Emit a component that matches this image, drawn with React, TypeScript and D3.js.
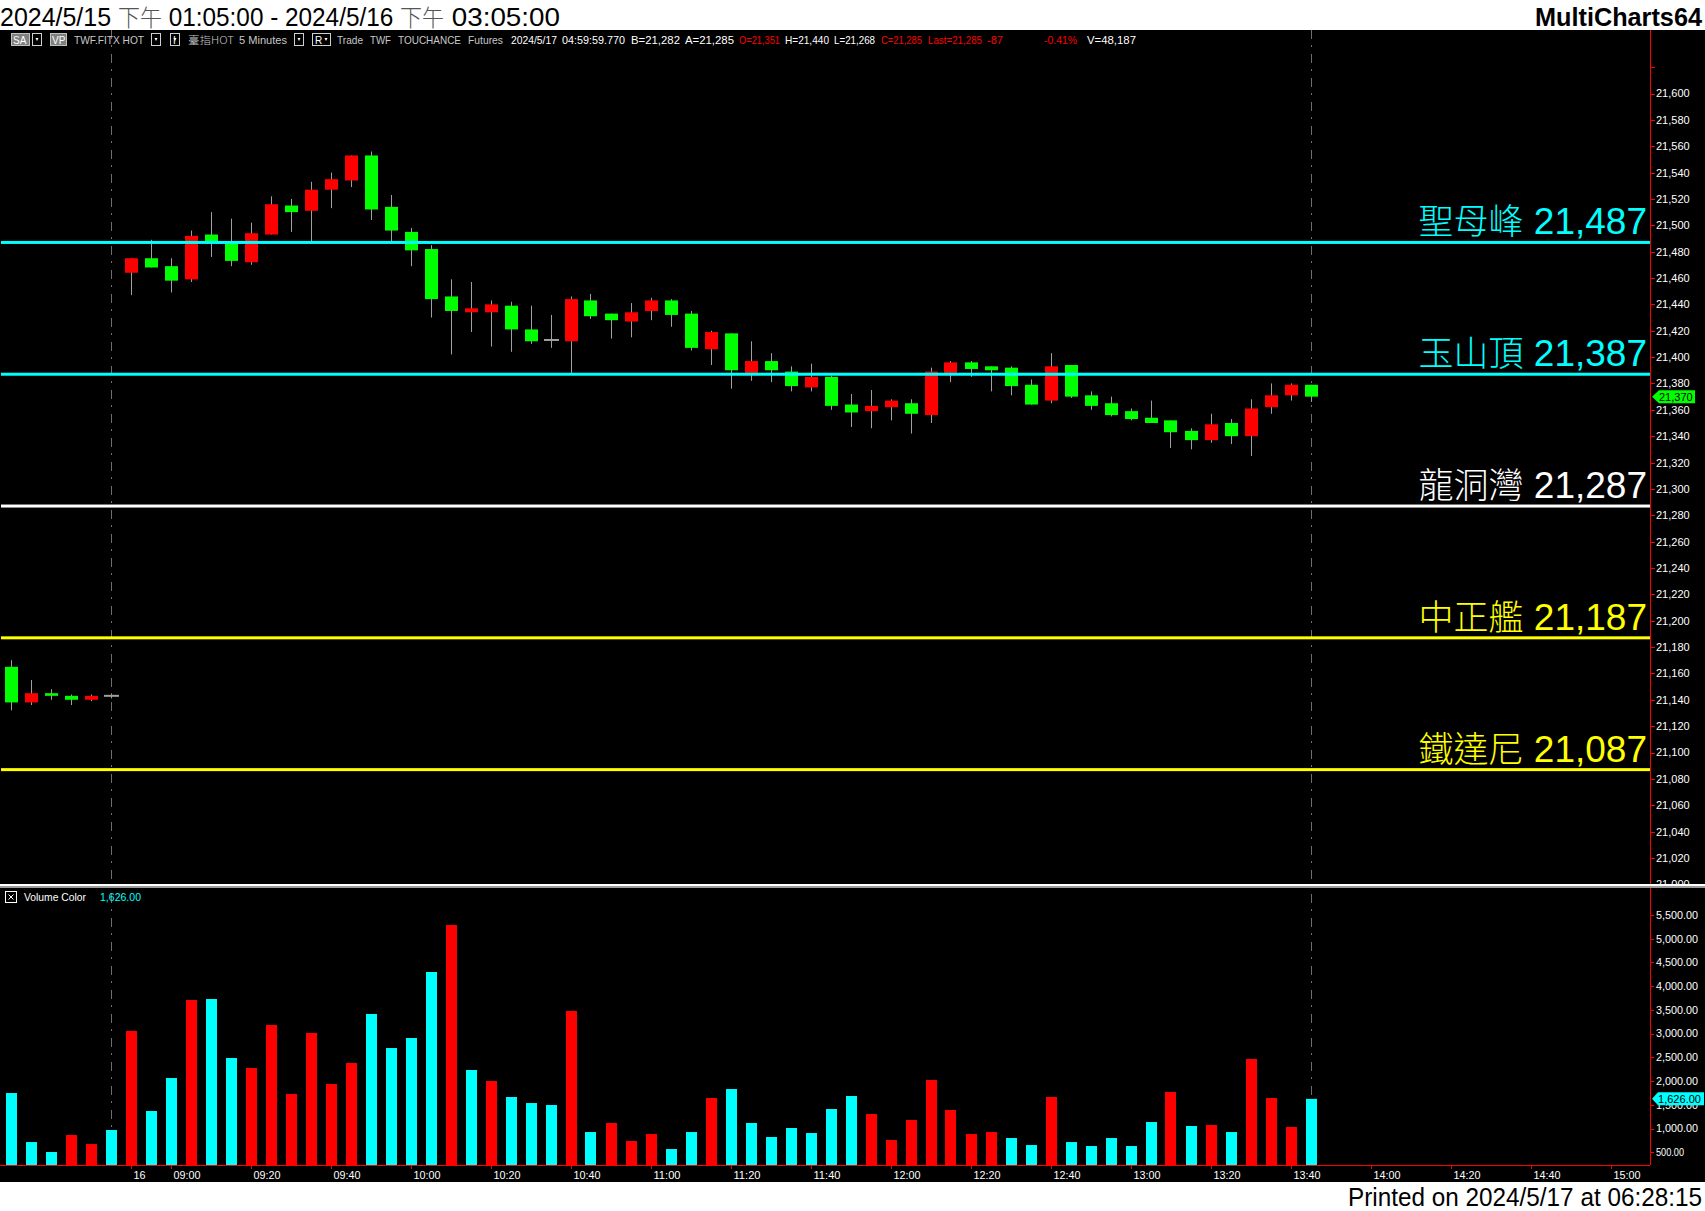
import React from "react";
import * as d3 from "d3";

// ---------------- DATA ----------------
const opens = [21165, 21138, 21145, 21143, 21140, 21143,
  21464, 21475, 21469, 21459, 21493, 21488, 21472, 21493, 21515, 21511,
  21527, 21534, 21553, 21514, 21495, 21482, 21446, 21434, 21434, 21439,
  21421, 21413, 21412, 21443, 21433, 21427, 21435, 21443, 21433, 21406,
  21418, 21387, 21397, 21389, 21377, 21385, 21364, 21359, 21362, 21365,
  21356, 21388, 21396, 21393, 21392, 21379, 21367, 21394, 21371, 21365,
  21359, 21354, 21352, 21344, 21337, 21350, 21340, 21362, 21371, 21379];
const highs = [21170, 21155, 21148, 21144, 21144, 21144,
  21475, 21489, 21475, 21496, 21510, 21505, 21502, 21522, 21520, 21533,
  21540, 21553, 21556, 21523, 21498, 21485, 21459, 21457, 21443, 21442,
  21439, 21432, 21446, 21448, 21433, 21441, 21445, 21444, 21435, 21420,
  21418, 21412, 21403, 21393, 21395, 21386, 21372, 21375, 21368, 21368,
  21392, 21397, 21397, 21393, 21393, 21383, 21403, 21394, 21374, 21370,
  21361, 21367, 21352, 21346, 21357, 21353, 21368, 21380, 21380, 21379];
const lows = [21132, 21136, 21140, 21136, 21139, 21141,
  21447, 21468, 21449, 21457, 21476, 21469, 21470, 21493, 21495, 21487,
  21513, 21529, 21504, 21487, 21469, 21430, 21402, 21419, 21408, 21404,
  21410, 21407, 21388, 21429, 21414, 21415, 21428, 21423, 21405, 21394,
  21376, 21382, 21381, 21374, 21374, 21360, 21347, 21346, 21352, 21342,
  21350, 21381, 21385, 21374, 21371, 21364, 21365, 21369, 21360, 21355,
  21352, 21350, 21331, 21330, 21335, 21334, 21325, 21357, 21367, 21366];
const closes = [21138, 21145, 21143, 21140, 21143, 21143,
  21475, 21468, 21458, 21492, 21487, 21473, 21494, 21516, 21510, 21527,
  21535, 21553, 21512, 21496, 21481, 21444, 21435, 21437, 21440, 21421,
  21412, 21413, 21444, 21431, 21428, 21434, 21443, 21432, 21407, 21419,
  21390, 21397, 21390, 21378, 21385, 21363, 21358, 21363, 21367, 21357,
  21389, 21396, 21391, 21390, 21378, 21364, 21393, 21370, 21363, 21356,
  21353, 21350, 21343, 21337, 21349, 21340, 21361, 21371, 21379, 21370];
const volumes = [1749, 716, 506, 864, 674, 970,
  3056, 1370, 2065, 3709, 3730, 2487, 2276, 3182, 1728, 3014,
  1939, 2381, 3414, 2697, 2908, 4299, 5289, 2234, 2002, 1665,
  1538, 1496, 3477, 927, 1117, 738, 885, 569, 927, 1644,
  1833, 1117, 822, 1012, 906, 1412, 1686, 1307, 759, 1180,
  2023, 1391, 885, 927, 801, 653, 1665, 716, 632, 801,
  632, 1138, 1770, 1054, 1075, 927, 2466, 1644, 1033, 1626];
// 1 = up volume (red), 0 = down volume (cyan)
const volumeUp = [0, 0, 0, 1, 1, 0,
  1, 0, 0, 1, 0, 0, 1, 1, 1, 1,
  1, 1, 0, 0, 0, 0, 1, 0, 1, 0,
  0, 0, 1, 0, 1, 1, 1, 0, 0, 1,
  0, 0, 0, 0, 0, 0, 0, 1, 1, 1,
  1, 1, 1, 1, 0, 0, 1, 0, 0, 0,
  0, 0, 1, 0, 1, 0, 1, 1, 1, 0];

const levelNames = ["聖母峰", "玉山頂", "龍洞灣", "中正艦", "鐵達尼"];
const levelValues = [21487, 21387, 21287, 21187, 21087];
const levelColors = ["#00ffff", "#00ffff", "#ffffff", "#ffff00", "#ffff00"];

const timeTickTimes = ["08:50", "09:00", "09:20", "09:40", "10:00", "10:20", "10:40", "11:00",
  "11:20", "11:40", "12:00", "12:20", "12:40", "13:00", "13:20", "13:40", "14:00", "14:20", "14:40", "15:00"];
const timeTickLabels = ["16", "09:00", "09:20", "09:40", "10:00", "10:20", "10:40", "11:00",
  "11:20", "11:40", "12:00", "12:20", "12:40", "13:00", "13:20", "13:40", "14:00", "14:20", "14:40", "15:00"];
const daySessionFirstBar = 6; // bar index of 08:50 on the 16th
const nightSessionLastBar = 5;

const priceTicks = d3.range(21000, 21621, 20);
const volumeTicks = d3.range(500, 5501, 500);
const lastPrice = 21370;
const lastVolume = 1626;

const titleText = ["2024/5/15 ", "下午", " 01:05:00 - 2024/5/16 ", "下午", " 03:05:00"];
const printedText = "Printed on 2024/5/17 at 06:28:15";

// ---------------- LAYOUT ----------------
const W = 1705;
const H = 1211;
const AXIS_X = 1650;
const PRICE_TOP = 30;
const SEP_Y = 884;
const VOL_TOP = 888;
const VOL_BASE = 1165;
const BLACK_BOTTOM = 1182;

const LATIN = "'Liberation Sans', Arial, 'DejaVu Sans', sans-serif";
const CJK = "'Noto Sans CJK TC Light', 'Noto Sans CJK TC', 'Noto Sans CJK SC', sans-serif";

function minutesOf(t: string) {
  const [h, m] = t.split(":").map(Number);
  return h * 60 + m;
}

const isCJK = (s: string) => /[\u4e00-\u9fff]/.test(s);

export default function App() {
  const n = closes.length;
  const x = d3.scaleLinear().domain([0, 82]).range([10.5, 1650.5]);
  const yP = d3.scaleLinear().domain([21000, 21600]).range([884.3, 93.5]);
  const yV = d3.scaleLinear().domain([500, 5500]).range([1152.3, 915]);
  const fmtInt = d3.format(",");
  const fmtVol = d3.format(",.2f");

  const barIndexOfTime = (t: string) =>
    daySessionFirstBar + (minutesOf(t) - minutesOf(timeTickTimes[0])) / 5;

  const bodyW = 13;
  const volW = 11;

  const candles = d3.range(n).map((i) => {
    const cx = Math.round(x(i));
    const o = opens[i], c = closes[i];
    const yTop = yP(Math.max(o, c));
    const yBot = yP(Math.min(o, c));
    const color = c > o ? "#ff0000" : c < o ? "#00ff00" : "#a0a0a0";
    return (
      <g key={"c" + i}>
        <line x1={cx + 0.5} x2={cx + 0.5} y1={yP(highs[i])} y2={yP(lows[i])} stroke="#a0a0a0" strokeWidth={1} />
        {c === o ? (
          <rect x={cx - 7} y={yTop - 1} width={15} height={2} fill="#a0a0a0" />
        ) : (
          <rect x={cx - 6} y={yTop} width={bodyW} height={Math.max(2, yBot - yTop)} fill={color} />
        )}
      </g>
    );
  });

  const volBars = d3.range(n).map((i) => {
    const cx = Math.round(x(i));
    const yt = yV(volumes[i]);
    return (
      <rect key={"v" + i} x={cx - 5} y={yt} width={volW} height={VOL_BASE - yt}
        fill={volumeUp[i] ? "#ff0000" : "#00ffff"} />
    );
  });

  const dashX = [x(nightSessionLastBar), x(n - 1)];

  const yLast = yP(lastPrice);
  const yLastV = yV(lastVolume);

  const infoGray = "#c8c8c8";
  const infoWhite = "#ffffff";
  const infoRed = "#ff0000";
  const infoItems: [string, number, number, string][] = [
    ["TWF.FITX HOT", 74, 70, infoGray],
    ["臺指HOT", 188, 46, infoGray],
    ["5 Minutes", 239, 48, infoGray],
    ["Trade", 337, 26, infoGray],
    ["TWF", 370, 21, infoGray],
    ["TOUCHANCE", 398, 63, infoGray],
    ["Futures", 468, 35, infoGray],
    ["2024/5/17", 511, 46, infoWhite],
    ["04:59:59.770", 562, 63, infoWhite],
    ["B=21,282", 631, 49, infoWhite],
    ["A=21,285", 685, 49, infoWhite],
    ["O=21,351", 739, 41, infoRed],
    ["H=21,440", 785, 44, infoWhite],
    ["L=21,268", 834, 41, infoWhite],
    ["C=21,285", 881, 41, infoRed],
    ["Last=21,285", 928, 54, infoRed],
    ["-87", 987, 16, infoRed],
    ["-0.41%", 1044, 33, infoRed],
    ["V=48,187", 1087, 49, infoWhite],
  ];

  const dropBox = (bx: number, key: string, label?: string, w = 9) => (
    <g key={key}>
      <rect x={bx + 0.5} y={33.5} width={w} height={12} fill="#000" stroke="#d0d0d0" strokeWidth={1} />
      {label ? (
        <text x={bx + 3} y={43.5} fontSize={10} fill="#fff" fontFamily={LATIN}>{label}</text>
      ) : null}
      <path d={`M${bx + w - 5.5},38 l3,0 l-1.5,3 z`} fill="#fff" />
    </g>
  );

  // title pieces laid out explicitly so tspans never collide
  const titleWidths = [118, 44, 238, 44, 116];
  const titleStarts = titleWidths.map((_, i) => d3.sum(titleWidths.slice(0, i)));

  return (
    <div style={{ width: W, height: H, overflow: "hidden" }}>
      <style>{`html,body{margin:0;padding:0;background:#fff;}`}</style>
      <svg width={W} height={H} style={{ display: "block" }} fontFamily={LATIN}>
        <defs>
          <clipPath id="priceClip">
            <rect x={0} y={PRICE_TOP} width={W} height={SEP_Y - PRICE_TOP} />
          </clipPath>
        </defs>
        {/* backgrounds */}
        <rect x={0} y={0} width={W} height={H} fill="#ffffff" />
        <rect x={0} y={PRICE_TOP} width={W} height={BLACK_BOTTOM - PRICE_TOP} fill="#000000" />

        {/* dashed session / last-bar lines */}
        {dashX.map((dx, i) => (
          <line key={"d" + i} x1={Math.round(dx) + 0.5} x2={Math.round(dx) + 0.5} y1={PRICE_TOP} y2={VOL_BASE}
            stroke="#6e6e6e" strokeWidth={1} strokeDasharray="9 6 2 7" />
        ))}

        {/* candles */}
        <g clipPath="url(#priceClip)">{candles}</g>

        {/* key level lines */}
        {levelValues.map((v, i) => (
          <g key={"l" + i}>
            <rect x={1} y={yP(v) - 1.5} width={AXIS_X - 1} height={3} fill={levelColors[i]} />
            <text x={1647} y={yP(v) - 8} textAnchor="end" fill={levelColors[i]}>
              <tspan fontFamily={CJK} fontSize={35} fontWeight={200}>{levelNames[i]}</tspan>
              <tspan fontFamily={LATIN} fontSize={37}>{" " + fmtInt(v)}</tspan>
            </text>
          </g>
        ))}

        {/* price axis */}
        <line x1={AXIS_X + 0.5} x2={AXIS_X + 0.5} y1={PRICE_TOP} y2={SEP_Y} stroke="#ff0000" strokeWidth={1} />
        <g clipPath="url(#priceClip)">
          {priceTicks.map((p) => (
            <g key={"pt" + p}>
              <line x1={AXIS_X} x2={AXIS_X + 5} y1={Math.round(yP(p)) + 0.5} y2={Math.round(yP(p)) + 0.5} stroke="#ff0000" />
              {p < 21620 ? (
                <text x={AXIS_X + 6} y={yP(p)} dy="0.36em" fontSize={11} fill="#ffffff">{fmtInt(p)}</text>
              ) : null}
            </g>
          ))}
        </g>
        {/* last price marker */}
        <g>
          <path d={`M${AXIS_X + 2},${yLast} L${AXIS_X + 9},${yLast - 6.5} L${AXIS_X + 45},${yLast - 6.5} L${AXIS_X + 45},${yLast + 6.5} L${AXIS_X + 9},${yLast + 6.5} Z`} fill="#00ff00" />
          <text x={AXIS_X + 9} y={yLast} dy="0.36em" fontSize={11} fill="#000">{fmtInt(lastPrice)}</text>
        </g>

        {/* separator */}
        <rect x={0} y={SEP_Y} width={W} height={2} fill="#ffffff" />
        <rect x={0} y={SEP_Y + 2} width={W} height={2} fill="#9a9a9a" />

        {/* volume legend */}
        <rect x={5.5} y={891.5} width={11} height={11} fill="none" stroke="#ffffff" />
        <path d="M8.5,894.5 L13.5,899.5 M13.5,894.5 L8.5,899.5" stroke="#ffffff" strokeWidth={1} />
        <text x={24} y={901} fontSize={10.5} fill="#ffffff" textLength={62} lengthAdjust="spacingAndGlyphs">Volume Color</text>
        <text x={100} y={901} fontSize={10.5} fill="#00ffff" textLength={41} lengthAdjust="spacingAndGlyphs">{fmtVol(lastVolume)}</text>

        {/* volume bars */}
        {volBars}

        {/* volume axis */}
        <line x1={AXIS_X + 0.5} x2={AXIS_X + 0.5} y1={VOL_TOP} y2={VOL_BASE} stroke="#ff0000" strokeWidth={1} />
        {volumeTicks.map((v) => (
          <g key={"vt" + v}>
            <line x1={AXIS_X} x2={AXIS_X + 4} y1={Math.round(yV(v)) + 0.5} y2={Math.round(yV(v)) + 0.5} stroke="#ff0000" />
            <text x={AXIS_X + 6} y={yV(v)} dy="0.36em" fontSize={10.5} fill="#ffffff" textLength={fmtVol(v).length > 6 ? 42 : 28} lengthAdjust="spacingAndGlyphs">{fmtVol(v)}</text>
          </g>
        ))}
        <g>
          <path d={`M${AXIS_X + 2},${yLastV} L${AXIS_X + 8},${yLastV - 6.5} L${W - 1},${yLastV - 6.5} L${W - 1},${yLastV + 6.5} L${AXIS_X + 8},${yLastV + 6.5} Z`} fill="#00ffff" />
          <text x={AXIS_X + 8} y={yLastV} dy="0.36em" fontSize={10.5} fill="#000" textLength={43} lengthAdjust="spacingAndGlyphs">{fmtVol(lastVolume)}</text>
        </g>

        {/* time axis */}
        <line x1={0} x2={AXIS_X} y1={VOL_BASE + 0.5} y2={VOL_BASE + 0.5} stroke="#ff0000" strokeWidth={1} />
        {timeTickTimes.map((t, i) => {
          const tx = Math.round(x(barIndexOfTime(t))) + 0.5;
          return (
            <g key={"tt" + i}>
              <line x1={tx} x2={tx} y1={VOL_BASE} y2={VOL_BASE + 4} stroke="#ff0000" />
              <text x={tx + 2} y={1179} fontSize={11} fill="#ffffff"
                textLength={timeTickLabels[i].length > 2 ? 27 : 12} lengthAdjust="spacingAndGlyphs">{timeTickLabels[i]}</text>
            </g>
          );
        })}

        {/* info row */}
        <rect x={11.5} y={33.5} width={18} height={12} fill="#808080" stroke="#c0c0c0" />
        <text x={13} y={43.5} fontSize={10} fill="#ffffff">SA</text>
        {dropBox(32, "db0")}
        <rect x={50.5} y={33.5} width={16} height={12} fill="#808080" stroke="#c0c0c0" />
        <text x={52} y={43.5} fontSize={10} fill="#ffffff">VP</text>
        {dropBox(151, "db1")}
        {dropBox(170, "db2", "I")}
        {dropBox(294, "db3")}
        {dropBox(312, "db4", "R", 18)}
        {infoItems.map(([s, ix, w, col], i) => (
          <text key={"inf" + i} x={ix} y={43.5} fontSize={10.5} fill={col}
            fontFamily={isCJK(s) ? CJK : LATIN}
            textLength={w} lengthAdjust="spacingAndGlyphs">{s}</text>
        ))}

        {/* title bar */}
        {titleText.map((s, i) => (
          <text key={"ti" + i} x={titleStarts[i]} y={26}
            fontFamily={isCJK(s) ? CJK : LATIN}
            fontWeight={isCJK(s) ? 300 : 400}
            fill={isCJK(s) ? "#555" : "#000"}
            fontSize={isCJK(s) ? 23 : 26}
            textLength={titleWidths[i]} lengthAdjust="spacingAndGlyphs"
            xmlSpace="preserve" style={{ whiteSpace: "pre" }}>{s}</text>
        ))}
        <text x={1702} y={26} textAnchor="end" fontSize={26} fontWeight="bold" fill="#000"
          textLength={167} lengthAdjust="spacingAndGlyphs">MultiCharts64</text>

        {/* printed footer */}
        <rect x={0} y={BLACK_BOTTOM} width={W} height={H - BLACK_BOTTOM} fill="#ffffff" />
        <text x={1702} y={1206} textAnchor="end" fontSize={25} fill="#000"
          textLength={354} lengthAdjust="spacingAndGlyphs">{printedText}</text>
      </svg>
    </div>
  );
}
